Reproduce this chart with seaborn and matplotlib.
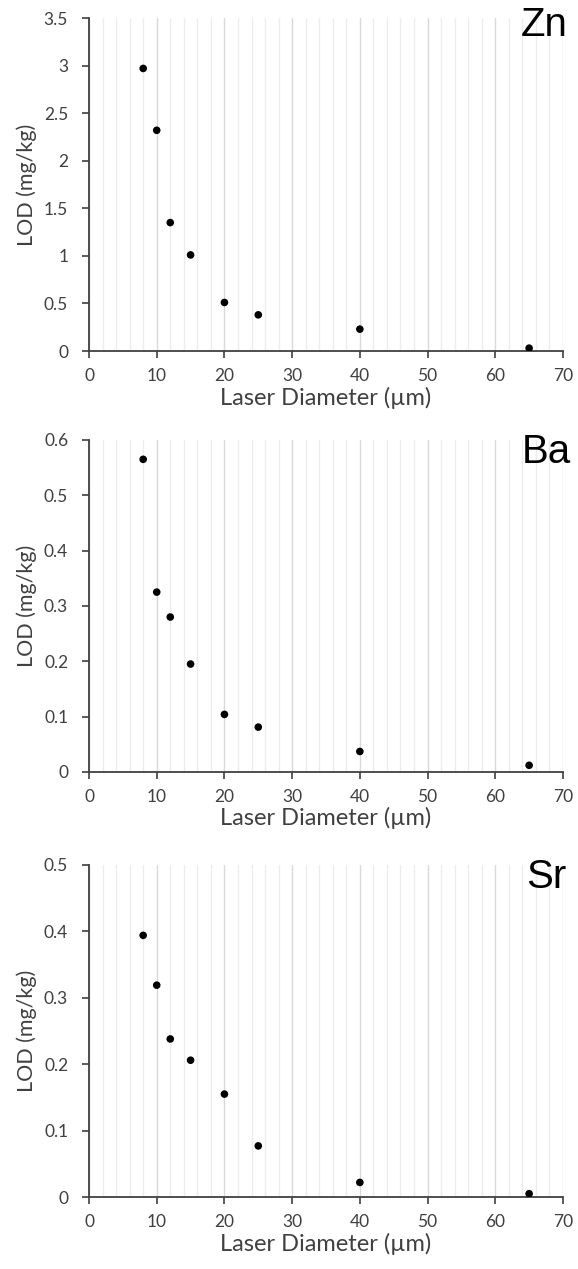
import matplotlib
matplotlib.use("Agg")
import matplotlib.pyplot as plt
from matplotlib.ticker import MultipleLocator
import seaborn as sns
import pandas as pd

# Laser spot diameters (µm) and limits of detection (mg/kg)
diameter = [8, 10, 12, 15, 20, 25, 40, 65]
lod_zn = [2.97, 2.32, 1.35, 1.01, 0.51, 0.38, 0.23, 0.03]
lod_ba = [0.565, 0.325, 0.28, 0.195, 0.104, 0.081, 0.037, 0.012]
lod_sr = [0.394, 0.319, 0.238, 0.206, 0.155, 0.077, 0.022, 0.005]

elements = ["Zn", "Ba", "Sr"]
y_max = [3.5, 0.6, 0.5]
y_step = [0.5, 0.1, 0.1]
y_fmt = ["{:g}", "{:.1f}", "{:.1f}"]

sns.set_theme(style="white")
plt.rcParams["font.family"] = ["Lato", "DejaVu Sans"]

fig = plt.figure(figsize=(5.78, 12.69), dpi=100)
boxes = [
    (0.154, 0.7234, 0.820, 0.2624),
    (0.154, 0.3917, 0.820, 0.2616),
    (0.154, 0.0567, 0.820, 0.2617),
]
label_pos = [(1.0105, 0.946), (1.017, 0.931), (1.008, 0.931)]

text_col = "#404040"
for i, (el, vals) in enumerate(zip(elements, [lod_zn, lod_ba, lod_sr])):
    ax = fig.add_axes(boxes[i])
    df = pd.DataFrame({"Laser Diameter (µm)": diameter, "LOD (mg/kg)": vals})
    sns.scatterplot(data=df, x="Laser Diameter (µm)", y="LOD (mg/kg)", ax=ax,
                    color="black", s=30, edgecolor="none", zorder=3)
    ax.set_xlim(0, 70)
    ax.set_ylim(0, y_max[i])
    ax.xaxis.set_major_locator(MultipleLocator(10))
    ax.xaxis.set_minor_locator(MultipleLocator(2))
    ax.yaxis.set_major_locator(MultipleLocator(y_step[i]))
    ax.set_yticks(ax.get_yticks())
    ax.set_yticklabels([y_fmt[i].format(round(v, 2)) if v != 0 else "0"
                        for v in ax.get_yticks()])
    ax.set_ylim(0, y_max[i])
    ax.grid(which="major", axis="x", color="#d9d9d9", linewidth=1.0)
    ax.grid(which="minor", axis="x", color="#ececec", linewidth=1.0)
    ax.grid(which="major", axis="y", visible=False)
    ax.set_axisbelow(True)
    for side in ["top", "right"]:
        ax.spines[side].set_visible(False)
    for side in ["left", "bottom"]:
        ax.spines[side].set_color("#404040")
        ax.spines[side].set_linewidth(1.3)
    ax.tick_params(axis="both", which="major", direction="out", length=5,
                   width=1.2, color="#404040", labelsize=12.5,
                   labelcolor=text_col, left=True, bottom=True)
    ax.tick_params(axis="x", which="major", pad=7)
    ax.tick_params(axis="y", which="major", pad=10)
    ax.tick_params(axis="x", which="minor", bottom=False)
    ax.set_xlabel("Laser Diameter (µm)", fontsize=17, color=text_col, labelpad=2)
    ax.set_ylabel("LOD (mg/kg)", fontsize=15.5, color=text_col, labelpad=5)
    ax.text(label_pos[i][0], label_pos[i][1], el, transform=ax.transAxes,
            ha="right", va="baseline", fontsize=29, color="black",
            family=["Liberation Sans", "DejaVu Sans"])

fig.savefig("out.png", dpi=100)
